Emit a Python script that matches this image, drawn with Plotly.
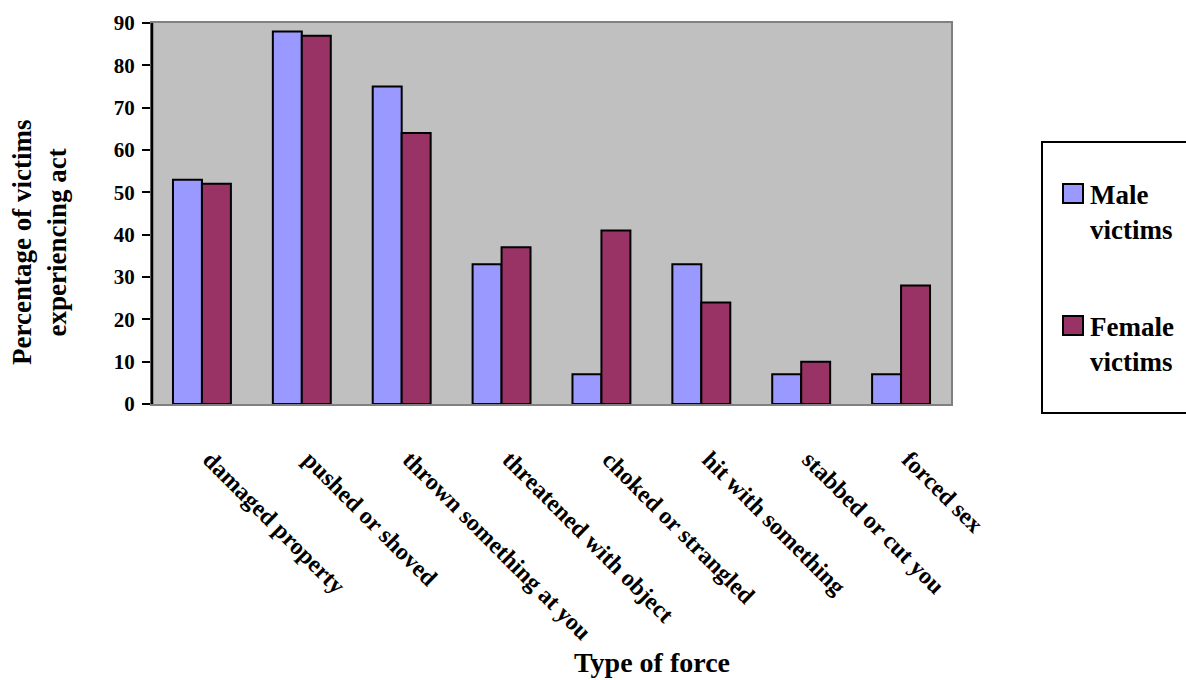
import plotly.graph_objects as go

# Survey results: share of victims who experienced each act
categories = [
    "damaged property",
    "pushed or shoved",
    "thrown something at you",
    "threatened with object",
    "choked or strangled",
    "hit with something",
    "stabbed or cut you",
    "forced sex",
]
male_victims = [53, 88, 75, 33, 7, 33, 7, 7]
female_victims = [52, 87, 64, 37, 41, 24, 10, 28]
y_ticks = [0, 10, 20, 30, 40, 50, 60, 70, 80, 90]

MALE_COLOR = "#9999FF"
FEMALE_COLOR = "#993366"
FONT = "Liberation Serif"

W, H = 1186, 680
L, R, T, B = 152, 235, 23, 276
PW, PH = W - L - R, H - T - B


def px_x(x):
    return (x - L) / PW


def px_y(y):
    return (H - B - y) / PH


fig = go.Figure()
fig.add_trace(go.Bar(
    x=categories, y=male_victims, name="Male victims",
    marker=dict(color=MALE_COLOR, line=dict(color="black", width=2)),
))
fig.add_trace(go.Bar(
    x=categories, y=female_victims, name="Female victims",
    marker=dict(color=FEMALE_COLOR, line=dict(color="black", width=2)),
))

fig.update_layout(
    width=W, height=H,
    margin=dict(l=L, r=R, t=T, b=B, autoexpand=False),
    paper_bgcolor="white",
    plot_bgcolor="#C0C0C0",
    barmode="group",
    bargap=0.42,
    bargroupgap=0,
    showlegend=False,
    font=dict(family=FONT, color="black"),
)

fig.update_xaxes(
    showline=True, linecolor="#808080", linewidth=2, mirror=True,
    ticks="", showgrid=False,
    tickangle=45,
    tickfont=dict(family=FONT, size=24, color="black", weight="bold"),
    ticklabelstandoff=30,
    ticklabelshift=8,
)
fig.update_yaxes(
    range=[0, 90], tickvals=y_ticks,
    showline=True, linecolor="#808080", linewidth=2, mirror=True,
    ticks="outside", ticklen=8, tickwidth=2, tickcolor="black",
    showgrid=False, zeroline=False,
    tickfont=dict(family=FONT, size=21, color="black", weight="bold"),
    ticklabelstandoff=3,
)

shapes = [
    # value axis drawn in black over the grey frame
    dict(type="line", xref="paper", yref="paper", x0=0, x1=0, y0=0, y1=1,
         line=dict(color="black", width=2.5)),
    # legend frame
    dict(type="rect", xref="paper", yref="paper",
         x0=px_x(1042), x1=px_x(1192), y0=px_y(413), y1=px_y(142),
         line=dict(color="black", width=2), fillcolor="white", layer="below"),
    # legend swatches
    dict(type="rect", xref="paper", yref="paper",
         x0=px_x(1063), x1=px_x(1083), y0=px_y(203), y1=px_y(184),
         line=dict(color="black", width=2), fillcolor=MALE_COLOR),
    dict(type="rect", xref="paper", yref="paper",
         x0=px_x(1063), x1=px_x(1083), y0=px_y(335), y1=px_y(316),
         line=dict(color="black", width=2), fillcolor=FEMALE_COLOR),
]
fig.update_layout(shapes=shapes)

annotations = [
    dict(text="Male<br>victims", x=px_x(1088), y=px_y(212), xref="paper", yref="paper",
         xanchor="left", yanchor="middle", align="left", showarrow=False,
         font=dict(family=FONT, size=27, color="black", weight="bold")),
    dict(text="Female<br>victims", x=px_x(1088), y=px_y(344), xref="paper", yref="paper",
         xanchor="left", yanchor="middle", align="left", showarrow=False,
         font=dict(family=FONT, size=27, color="black", weight="bold")),
    dict(text="Type of force", x=px_x(652), y=px_y(662), xref="paper", yref="paper",
         xanchor="center", yanchor="middle", showarrow=False,
         font=dict(family=FONT, size=28, color="black", weight="bold")),
    dict(text="Percentage of victims<br>experiencing act", x=px_x(39), y=px_y(242),
         xref="paper", yref="paper", xanchor="center", yanchor="middle",
         textangle=-90, showarrow=False,
         font=dict(family=FONT, size=27, color="black", weight="bold")),
]
fig.update_layout(annotations=annotations)

fig.write_html("out.html")
